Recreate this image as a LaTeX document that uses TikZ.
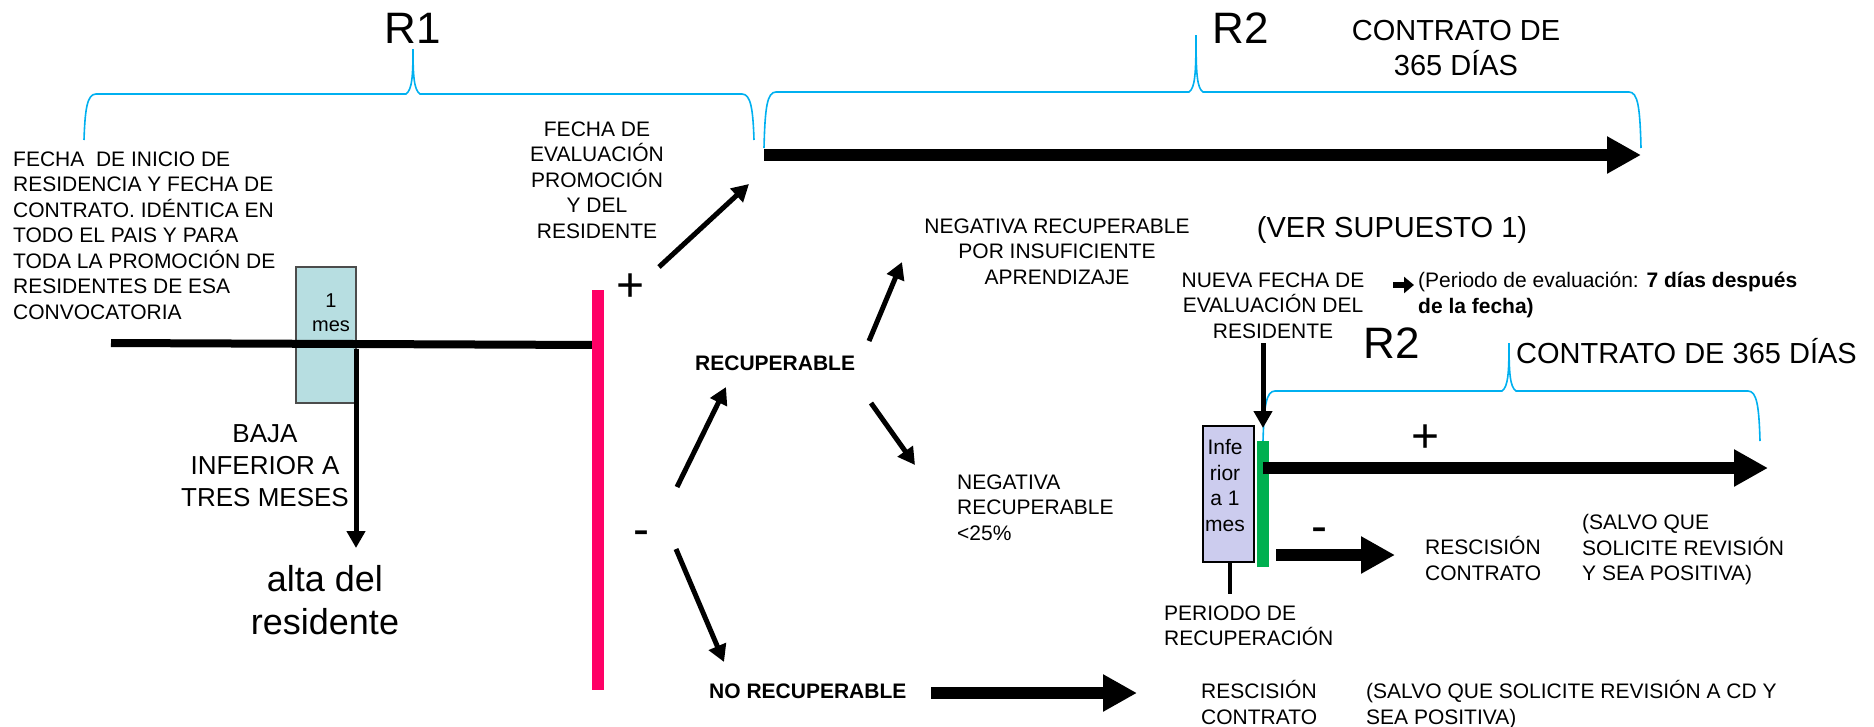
\documentclass[tikz,border=0pt]{standalone}
\usepackage{fontspec}
\setmainfont{Liberation Sans}
\usetikzlibrary{arrows.meta}
\definecolor{bracecol}{RGB}{0,176,240}
\definecolor{pinkbar}{RGB}{255,0,102}
\definecolor{greenbar}{RGB}{0,176,80}
\definecolor{boxblue}{RGB}{183,222,225}
\definecolor{boxlav}{RGB}{204,204,238}
\newcommand\fsz[2]{\fontsize{#1}{#2}\selectfont}
\newcommand\cbrace[6]{%
  \draw[bracestyle] (#1,#4) .. controls (#1+1,#5+16) and (#1+3,#5) .. (#1+12,#5)
    -- (#3-7,#5) .. controls (#3-1,#5-4) and (#3,#5-18) .. (#3,#6)
    .. controls (#3,#5-18) and (#3+1,#5-4) .. (#3+7,#5)
    -- (#2-12,#5) .. controls (#2-3,#5) and (#2-1,#5+16) .. (#2,#4);}
\tikzset{
  txt/.style={inner sep=0pt, font=\fsz{21}{25.5}, execute at begin node=\strut},
  txtb/.style={inner sep=0pt, font=\fsz{21}{25.5}\bfseries},
  big/.style={inner sep=0pt, font=\fsz{44}{50}},
  mid/.style={inner sep=0pt, font=\fsz{29}{35}, execute at begin node=\strut},
  sign/.style={inner sep=0pt, font=\fsz{48}{52}, anchor=base},
  bracestyle/.style={draw=bracecol, line width=1.6pt},
  thinarr/.style={line width=5pt, -{Triangle[length=17pt,width=18pt]}},
  blockarr/.style={line width=12pt, -{Triangle[length=34pt,width=35pt]}},
}
\begin{document}
\begin{tikzpicture}[x=1pt,y=-1pt]
\useasboundingbox[fill=white] (0,0) rectangle (1874,726);

% ---------- braces and titles
\cbrace{84}{754}{413}{140}{94}{49}
\cbrace{764}{1641}{1196}{148}{92}{35}
\cbrace{1263}{1760}{1509}{441}{391}{343}
\node[big, anchor=base] (r1) at (413,43) {R1};
\node[big, anchor=base] (r2a) at (1241,43) {R2};
\node[big, anchor=base] (r2b) at (1392,358) {R2};
\node[mid, anchor=north, align=center] (contr1) at (1456,20.5) {CONTRATO DE\\365 DÍAS};
\node[inner sep=0pt, font=\fsz{29}{35}, anchor=base west] (contr2) at (1516,363) {CONTRATO DE 365 DÍAS};
\node[inner sep=0pt, font=\fsz{29}{35}, anchor=base] (ver) at (1392,237) {(VER SUPUESTO 1)};

% ---------- left part
\node[draw=black!70, line width=1.2pt, fill=boxblue, minimum width=60pt, minimum height=136pt, inner sep=0pt] (mesbox) at (326,335) {};
\node[inner sep=0pt, font=\fsz{20}{24}, execute at begin node=\strut, align=center, anchor=north] (mestxt) at (331,293.2) {1\\mes};
\coordinate (lineL) at (111,343);
\coordinate (lineR) at (598,345);
\draw[line width=8pt] (lineL) -- (lineR);
\coordinate (bajaS) at (356,349);
\coordinate (bajaE) at (356,548);
\draw[thinarr] (bajaS) -- (bajaE);
\node[txt, anchor=north west, align=left] (inicio) at (13,151.15) {FECHA\ \ DE INICIO DE\\RESIDENCIA Y FECHA DE\\CONTRATO. IDÉNTICA EN\\TODO EL PAIS Y PARA\\TODA LA PROMOCIÓN DE\\RESIDENTES DE ESA\\CONVOCATORIA};
\node[inner sep=0pt, font=\fsz{26}{32}, execute at begin node=\strut, anchor=north, align=center] (baja) at (265,424.6) {BAJA\\INFERIOR A\\TRES MESES};
\node[inner sep=0pt, font=\fsz{36}{43}, execute at begin node=\strut, anchor=north, align=center] (alta) at (325,564.9) {alta del\\residente};

% ---------- pink evaluation bar
\coordinate (pinkT) at (598,290);
\coordinate (pinkB) at (598,690);
\draw[pinkbar, line width=12pt] (pinkT) -- (pinkB);
\node[txt, anchor=north, align=center] (fechaev) at (597,121.2) {FECHA DE\\EVALUACIÓN\\PROMOCIÓN\\Y DEL\\RESIDENTE};
\node[sign] (plus1) at (631,301.8) {+};
\node[sign] (minus1) at (641,545) {-};
\coordinate (p1s) at (659,267);
\coordinate (p1e) at (749,184);
\draw[thinarr] (p1s) -- (p1e);

% ---------- top R2 arrow
\coordinate (topL) at (764,155);
\coordinate (topR) at (1641,155);
\draw[blockarr] (topL) -- (topR);

% ---------- negative branch
\node[txtb, anchor=base west] (recup) at (695,370) {RECUPERABLE};
\node[txtb, anchor=base west] (norecup) at (709,698) {NO RECUPERABLE};
\coordinate (m1s) at (677,487);
\coordinate (m1e) at (726,387);
\draw[thinarr] (m1s) -- (m1e);
\coordinate (m2s) at (676,549);
\coordinate (m2e) at (724,662);
\draw[thinarr] (m2s) -- (m2e);
\coordinate (r1s) at (869,341);
\coordinate (r1e) at (902,262);
\draw[thinarr] (r1s) -- (r1e);
\coordinate (r2s) at (871,403);
\coordinate (r2e) at (915,465);
\draw[thinarr] (r2s) -- (r2e);
\node[txt, anchor=north, align=center] (insuf) at (1057,218.2) {NEGATIVA RECUPERABLE\\POR INSUFICIENTE\\APRENDIZAJE};
\node[txt, anchor=north west, align=left] (neg25) at (957,474.2) {NEGATIVA\\RECUPERABLE\\<25\%};
\coordinate (botL) at (931,693);
\coordinate (botR) at (1137,693);
\draw[blockarr] (botL) -- (botR);
\node[txt, anchor=north west, align=left] (resc2) at (1201,680.2) {RESCISIÓN\\CONTRATO};
\node[txt, anchor=north west, align=left] (salvo2) at (1366,680.2) {(SALVO QUE SOLICITE REVISIÓN A CD Y\\SEA POSITIVA)};

% ---------- recovery period
\node[txt, anchor=north, align=center] (nueva) at (1273,272.2) {NUEVA FECHA DE\\EVALUACIÓN DEL\\RESIDENTE};
\coordinate (sa1) at (1393,285);
\coordinate (sa2) at (1414,285);
\draw[line width=5.5pt, -{Triangle[length=10pt,width=16pt]}] (sa1) -- (sa2);
\node[txt, anchor=north west, align=left] (periodo) at (1418,272.2) {(Periodo de evaluación: \textbf{7 días después}\\\textbf{de la fecha)}};
\node[draw=black, line width=2pt, fill=boxlav, minimum width=51pt, minimum height=136pt, inner sep=0pt] (infbox) at (1228.5,494) {};
\node[txt, anchor=north, align=center] (inftxt) at (1225,439.2) {Infe\\rior\\a 1\\mes};
\coordinate (infB) at (1230,594);
\draw[line width=4.5pt] (infbox.south -| infB) -- (infB);
\coordinate (nuevaS) at (1263,343);
\coordinate (nuevaE) at (1263,428);
\draw[thinarr] (nuevaS) -- (nuevaE);
\coordinate (greenT) at (1263,441);
\coordinate (greenB) at (1263,567);
\draw[greenbar, line width=12pt] (greenT) -- (greenB);
\coordinate (posL) at (1263,468);
\coordinate (posR) at (1768,468);
\draw[blockarr] (posL) -- (posR);
\node[sign] (plus2) at (1425,452.3) {+};
\node[sign] (minus2) at (1319,542.5) {-};
\coordinate (negL) at (1276,555);
\coordinate (negR) at (1395,555);
\draw[blockarr] (negL) -- (negR);
\node[txt, anchor=north west, align=left] (resc1) at (1425,536.2) {RESCISIÓN\\CONTRATO};
\node[txt, anchor=north west, align=left] (salvo1) at (1582,514.2) {(SALVO QUE\\SOLICITE REVISIÓN\\Y SEA POSITIVA)};
\node[txt, anchor=north west, align=left] (perrec) at (1164,605.2) {PERIODO DE\\RECUPERACIÓN};
\end{tikzpicture}
\end{document}
